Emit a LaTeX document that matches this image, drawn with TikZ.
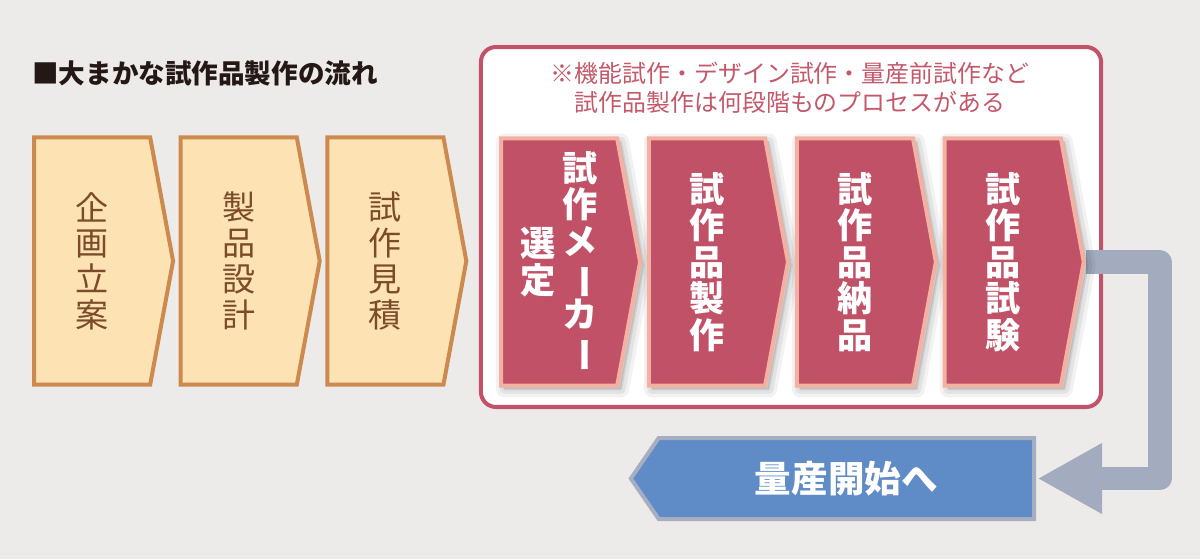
\documentclass[tikz,border=0pt]{standalone}
\usepackage{fontspec}
\setmainfont{Noto Sans CJK JP}
\usepackage{graphicx}
\usetikzlibrary{positioning,shapes.symbols,arrows.meta,shadows}
\definecolor{bggray}{HTML}{EDEBE9}
\definecolor{titletext}{HTML}{231815}
\definecolor{planfill}{HTML}{FDE3B4}
\definecolor{planline}{HTML}{CD8A4F}
\definecolor{plantext}{HTML}{7B4B2A}
\definecolor{trialfill}{HTML}{C05166}
\definecolor{trialline}{HTML}{F4B0A0}
\definecolor{boxline}{HTML}{C25268}
\definecolor{notetext}{HTML}{C4586B}
\definecolor{gofill}{HTML}{5F8BC7}
\definecolor{goline}{HTML}{A6AFC2}
\definecolor{flowgray}{HTML}{A3ACBF}
\pgfdeclarelayer{back}
\pgfdeclarelayer{mid}
\pgfsetlayers{back,mid,main}
% vertical column of characters, one per row
\newcommand{\tate}[1]{$\vcenter{\lineskiplimit=-20pt\relax\halign{\hfil##\hfil\cr#1\crcr}}$}
\newcommand{\chobar}{\rotatebox[origin=c]{-90}{ー}}
\begin{document}
\begin{tikzpicture}[x=0.025cm,y=-0.025cm]
\tikzstyle{mystep} = [signal, signal to=east, signal pointer angle=159, minimum width=98.9pt, minimum height=175.7pt, inner sep=0pt, line width=2.85pt] % chevron step
\tikzstyle{myplan} = [mystep, draw=planline, fill=planfill, text=plantext, font=\fontsize{23.5pt}{25.4pt}\selectfont] % first steps
\tikzstyle{mysoft} = [drop shadow={shadow xshift=2.5pt, shadow yshift=-2.5pt, opacity=0.05, draw=black, line width=12pt, line join=round}, drop shadow={shadow xshift=2.5pt, shadow yshift=-2.5pt, opacity=0.06, draw=black, line width=7pt, line join=round}, drop shadow={shadow xshift=2.5pt, shadow yshift=-2.5pt, opacity=0.08, draw=black, line width=2pt, line join=round}] % soft shadow
\tikzstyle{mytrial} = [mystep, mysoft, draw=trialline, fill=trialfill, text=white, font=\fontsize{25pt}{26pt}\selectfont\bfseries] % trial steps
\tikzstyle{mygo} = [signal, signal to=west, signal pointer angle=111, minimum width=286.7pt, minimum height=57.6pt, inner sep=0pt, line width=2.85pt, draw=goline, fill=gofill, text=white, font=\fontsize{26pt}{28pt}\selectfont\bfseries] % final arrow
\tikzstyle{myflow} = [draw=flowgray, line width=16.4pt, line join=round, -{Triangle[length=46pt, width=47pt]}, shorten >=1pt]

\begin{pgfonlayer}{back}
\fill[bggray] (0,0) rectangle (1200,559);
\node[draw=boxline, fill=white, line width=2.85pt, rounded corners=10.7pt, minimum width=441pt, minimum height=256pt] (frame) at (791,227) {};
\end{pgfonlayer}

\node[anchor=west, text=titletext, font=\fontsize{18.9pt}{22pt}\selectfont\bfseries, inner sep=0pt] (title) at (32,73) {■大まかな試作品製作の流れ};
\node[align=center, text=notetext, font=\fontsize{17pt}{20.6pt}\selectfont, inner sep=0pt] (note) at (790,88) {※機能試作・デザイン試作・量産前試作など\\試作品製作は何段階ものプロセスがある};

%
\node[myplan, anchor=west] (p1) at (32,261) {\tate{企\cr 画\cr 立\cr 案}};
\node[myplan, right=2.5pt of p1] (p2) {\tate{製\cr 品\cr 設\cr 計}};
\node[myplan, right=2.5pt of p2] (p3) {\tate{試\cr 作\cr 見\cr 積}};
%
\node[mytrial, anchor=west] (t1) at (499,262) {\tate{選\cr 定}\hspace{5pt}\tate{試\cr 作\cr メ\cr \chobar\cr カ\cr \chobar}};
\node[mytrial, right=3.4pt of t1] (t2) {\tate{試\cr 作\cr 品\cr 製\cr 作}};
\node[mytrial, right=3.4pt of t2] (t3) {\tate{試\cr 作\cr 品\cr 納\cr 品}};
\node[mytrial, right=3.4pt of t3] (t4) {\tate{試\cr 作\cr 品\cr 試\cr 験}};
%
\node[mygo, anchor=east] (go) at (1036,478.5) {量産開始へ};
\coordinate (turn) at (1160,0);

\begin{pgfonlayer}{mid}
\draw[myflow] (t4.east) -| (turn |- go.east) -- (go.east);
\end{pgfonlayer}
\end{tikzpicture}
\end{document}
